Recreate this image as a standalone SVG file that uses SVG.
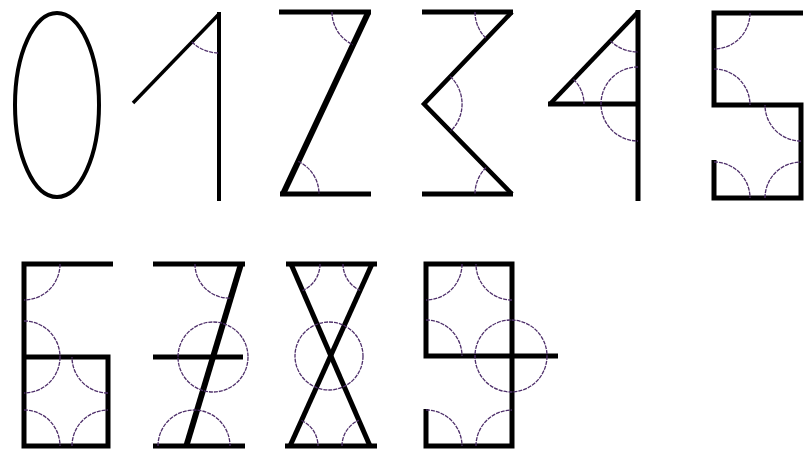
<svg xmlns="http://www.w3.org/2000/svg" width="805" height="452" viewBox="0 0 805 452">
<style>
.s{fill:none;stroke:#000;stroke-width:5;stroke-linejoin:miter;stroke-linecap:butt}
.a{fill:none;stroke:#4e2f6a;stroke-width:1.3;stroke-dasharray:4 1}
</style>
<rect width="805" height="452" fill="#fff"/>
<g id="d0">
<ellipse class="s" cx="57" cy="105" rx="42" ry="92" style="stroke-width:4"/>
</g>
<g id="d1">
<path class="s" d="M133,103 L219,14" style="stroke-width:3.5"/>
<path class="s" d="M219,12 V201" style="stroke-width:4"/>
<path class="a" d="M191.9,42 A39,39 0 0,0 219,53"/>
</g>
<g id="d2">
<path class="s" d="M279,12 H371"/>
<path class="s" d="M368,13 L283,194" style="stroke-width:6"/>
<path class="s" d="M280,194 H371"/>
<path class="a" d="M332,12 A36,36 0 0,0 352.7,44.6"/>
<path class="a" d="M298.3,161.4 A36,36 0 0,1 319,194"/>
</g>
<g id="d3">
<path class="s" d="M422,12 H513"/>
<path class="s" d="M512,12 L424,104 L512,194" style="stroke-width:4.5"/>
<path class="s" d="M422,194 H513"/>
<path class="a" d="M475,12 A37,37 0 0,0 486.4,38.7"/>
<path class="a" d="M450.3,76.5 A38,38 0 0,1 450.6,131.2"/>
<path class="a" d="M486.1,167.5 A37,37 0 0,0 475,194"/>
</g>
<g id="d4">
<path class="s" d="M638,10 V201"/>
<path class="s" d="M638,12 L550,104" style="stroke-width:4.5"/>
<path class="s" d="M548,104 H640"/>
<path class="a" d="M610.4,40.9 A40,40 0 0,0 638,52"/>
<path class="a" d="M573.5,79.4 A34,34 0 0,1 584,104"/>
<path class="a" d="M638,67 A37,37 0 0,0 638,141"/>
</g>
<g id="d5">
<path class="s" d="M803,13 H714 V105 H801 V198 H714 V160"/>
<path class="a" d="M750,13 A36,36 0 0,1 714,49"/>
<path class="a" d="M714,69 A36,36 0 0,1 750,105"/>
<path class="a" d="M801,141 A36,36 0 0,1 765,105"/>
<path class="a" d="M714,162 A36,36 0 0,1 750,198"/>
<path class="a" d="M765,198 A36,36 0 0,1 801,162"/>
</g>
<g id="d6">
<path class="s" d="M113,264 H24 V446 H108 V357 H22"/>
<path class="a" d="M60,264 A36,36 0 0,1 24,300"/>
<path class="a" d="M24,321 A36,36 0 0,1 60,357"/>
<path class="a" d="M60,357 A36,36 0 0,1 24,393"/>
<path class="a" d="M108,393 A36,36 0 0,1 72,357"/>
<path class="a" d="M24,410 A36,36 0 0,1 60,446"/>
<path class="a" d="M72,446 A36,36 0 0,1 108,410"/>
</g>
<g id="d7">
<path class="s" d="M153,264 H245"/>
<path class="s" d="M241,264 L186,447" style="stroke-width:6"/>
<path class="s" d="M153,357 H243"/>
<path class="s" d="M153,446 H245"/>
<path class="a" d="M195,264 A34,34 0 0,0 230.8,298"/>
<circle class="a" cx="213" cy="357" r="35"/>
<path class="a" d="M158,446 A36,36 0 0,1 230,446"/>
</g>
<g id="d8">
<path class="s" d="M286,264 H377"/>
<path class="s" d="M291,264 L370,446"/>
<path class="s" d="M372,264 L290,446"/>
<path class="s" d="M285,446 H377"/>
<path class="a" d="M320,264 A29,29 0 0,1 302.6,290.6"/>
<path class="a" d="M343,264 A29,29 0 0,0 360.1,290.4"/>
<circle class="a" cx="329" cy="356" r="34"/>
<path class="a" d="M301.5,420.5 A28,28 0 0,1 318,446"/>
<path class="a" d="M342,446 A28,28 0 0,1 358.8,420.3"/>
</g>
<g id="d9">
<path class="s" d="M426,409 V446 H512 V264 H426 V356 H558"/>
<path class="a" d="M462,264 A36,36 0 0,1 426,300"/>
<path class="a" d="M512,300 A36,36 0 0,1 476,264"/>
<path class="a" d="M426,320 A36,36 0 0,1 462,356"/>
<circle class="a" cx="511" cy="356" r="36"/>
<path class="a" d="M426,410 A36,36 0 0,1 462,446"/>
<path class="a" d="M476,446 A36,36 0 0,1 512,410"/>
</g>
</svg>
